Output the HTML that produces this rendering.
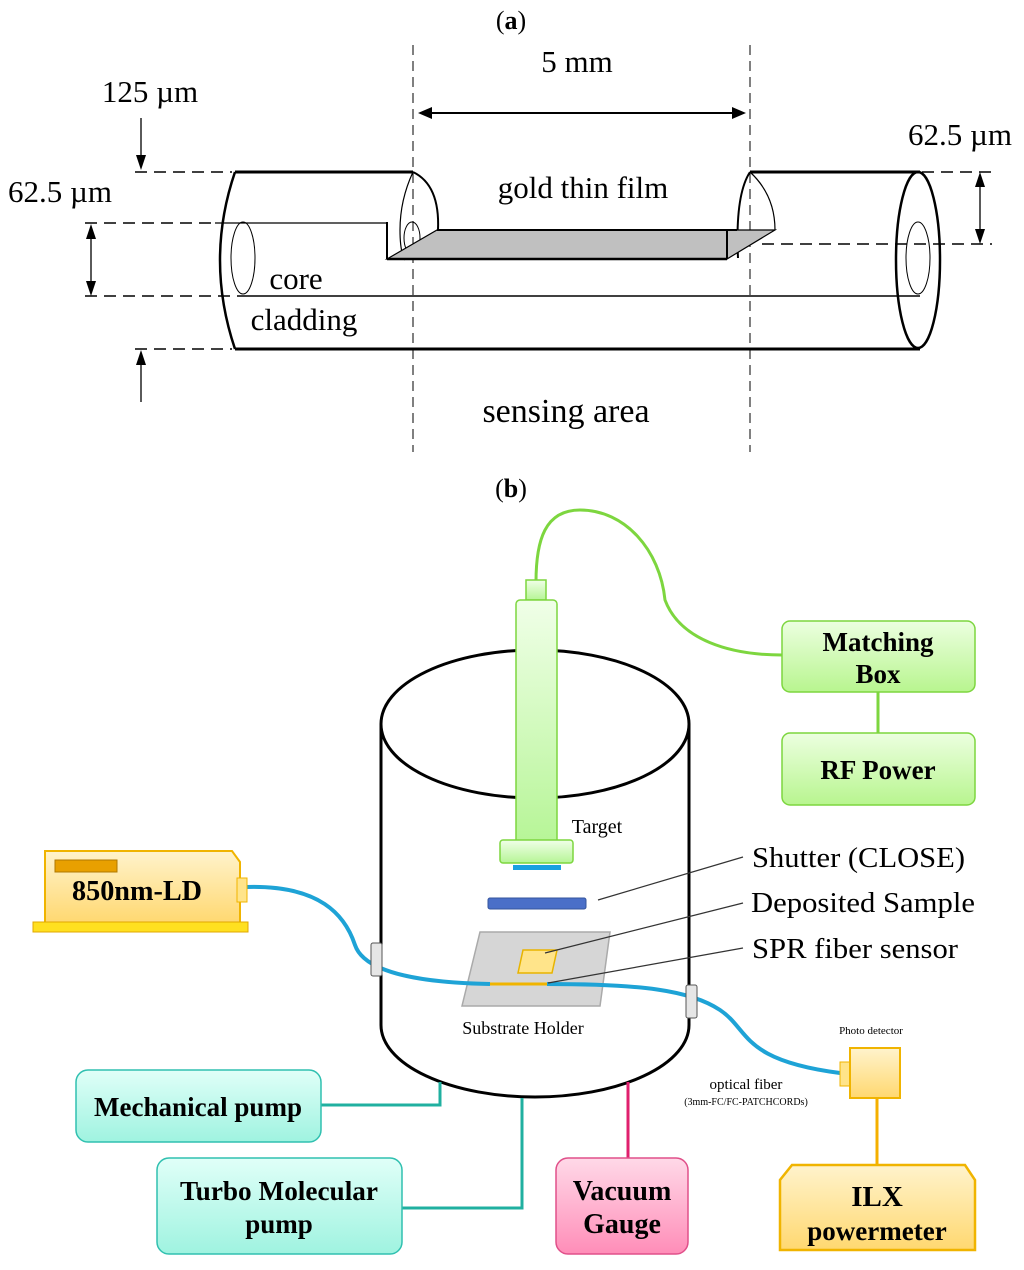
<!DOCTYPE html>
<html><head><meta charset="utf-8"><style>
html,body{margin:0;padding:0;background:#fff}
svg{display:block}
text{font-family:"Liberation Serif",serif}
.b{font-weight:bold}
</style></head><body>
<svg width="1024" height="1270" viewBox="0 0 1024 1270" xmlns="http://www.w3.org/2000/svg">
<defs>
<linearGradient id="gg" x1="0" y1="0" x2="0" y2="1"><stop offset="0" stop-color="#ecffe0"/><stop offset="1" stop-color="#b8f58f"/></linearGradient>
<linearGradient id="gt" x1="0" y1="0" x2="0" y2="1"><stop offset="0" stop-color="#f0ffe8"/><stop offset="1" stop-color="#b6f596"/></linearGradient>
<linearGradient id="cy" x1="0" y1="0" x2="0" y2="1"><stop offset="0" stop-color="#e0fff8"/><stop offset="1" stop-color="#9ff3e0"/></linearGradient>
<linearGradient id="pk" x1="0" y1="0" x2="0" y2="1"><stop offset="0" stop-color="#ffd9e8"/><stop offset="1" stop-color="#ff8db8"/></linearGradient>
<linearGradient id="yl" x1="0" y1="0" x2="0" y2="1"><stop offset="0" stop-color="#fff3cc"/><stop offset="1" stop-color="#ffd870"/></linearGradient>
</defs>

<!-- (a) -->
<text x="511" y="29" font-size="26" text-anchor="middle">(<tspan class="b">a</tspan>)</text>
<g stroke="#000" stroke-width="1" stroke-dasharray="10,6" fill="none">
<line x1="413" y1="45" x2="413" y2="452"/><line x1="750" y1="45" x2="750" y2="452"/>
</g>
<text x="577" y="72" font-size="31" text-anchor="middle">5 mm</text>
<line x1="430" y1="113" x2="735" y2="113" stroke="#000" stroke-width="2"/>
<path d="M418,113 L432,107 L432,119 z M746,113 L732,107 L732,119 z" fill="#000"/>

<g stroke="#000" fill="none" stroke-width="2">
<g stroke-dasharray="12,7" stroke-width="1.6">
<line x1="135" y1="172" x2="232" y2="172"/><line x1="135" y1="349" x2="232" y2="349"/>
<line x1="85" y1="223" x2="215" y2="223"/><line x1="85" y1="296" x2="240" y2="296"/>
<line x1="922" y1="172" x2="992" y2="172"/><line x1="762" y1="244" x2="992" y2="244"/>
</g>
<line x1="235" y1="172" x2="413" y2="172" stroke-width="3"/>
<line x1="750" y1="172" x2="920" y2="172" stroke-width="3"/>
<line x1="235" y1="349" x2="920" y2="349" stroke-width="3"/>
<path d="M235,172 Q205,260 235,349" stroke-width="2.5"/>
<ellipse cx="918" cy="260" rx="22" ry="88" stroke-width="2.5"/>
<ellipse cx="918" cy="258" rx="12" ry="36" stroke-width="1"/>
<ellipse cx="243" cy="258" rx="12" ry="36" stroke-width="1"/>
<path d="M413,172 Q440,185 438,230" stroke-width="2"/>
<path d="M413,172 Q400,200 400,230 Q400,252 405,260" stroke-width="1.2"/>
<ellipse cx="412" cy="238" rx="8" ry="16" stroke-width="1"/>
<path d="M750,172 Q735,195 738,258" stroke-width="2"/>
<path d="M750,172 Q775,195 775,230" stroke-width="1.2"/>
<line x1="215" y1="223" x2="387" y2="223" stroke-width="1.2"/>
<line x1="240" y1="296" x2="920" y2="296" stroke-width="1.5"/>
<polygon points="437,230 775,230 727,259 387,259" fill="#c0c0c0" stroke-width="1.2"/>
<line x1="437" y1="230" x2="737" y2="230" stroke-width="2"/>
<line x1="387" y1="259" x2="727" y2="259" stroke-width="2.5"/>
<line x1="387" y1="222" x2="387" y2="259" stroke-width="2"/>
<line x1="727" y1="230" x2="727" y2="259" stroke-width="2"/>
<line x1="141" y1="118" x2="141" y2="166" stroke-width="1.3"/>
<line x1="141" y1="402" x2="141" y2="356" stroke-width="1.3"/>
<line x1="91" y1="230" x2="91" y2="290" stroke-width="1.3"/>
<line x1="980" y1="178" x2="980" y2="238" stroke-width="1.3"/>
</g>
<path d="M141,170 L136,155 L146,155 z M141,350 L136,365 L146,365 z M91,224 L86,239 L96,239 z M91,296 L86,281 L96,281 z M980,172 L975,187 L985,187 z M980,244 L975,229 L985,229 z" fill="#000"/>
<g font-size="31">
<text x="150" y="102" text-anchor="middle">125 µm</text>
<text x="60" y="202" text-anchor="middle">62.5 µm</text>
<text x="960" y="145" text-anchor="middle">62.5 µm</text>
<text x="583" y="198" text-anchor="middle">gold thin film</text>
<text x="296" y="289" text-anchor="middle">core</text>
<text x="304" y="330" text-anchor="middle">cladding</text>
<text x="566" y="422" text-anchor="middle" font-size="34">sensing area</text>
</g>

<!-- (b) -->
<text x="511" y="497" font-size="26" text-anchor="middle">(<tspan class="b">b</tspan>)</text>

<path d="M536,582 C536,540 545,510 580,510 C625,510 660,550 665,600 C680,640 730,655 782,655" stroke="#7dd63f" stroke-width="3" fill="none"/>

<ellipse cx="535" cy="724" rx="154" ry="74" fill="none" stroke="#000" stroke-width="3"/>
<path d="M381,724 L381,1025 A154,72 0 0 0 689,1025 L689,724" fill="none" stroke="#000" stroke-width="3"/>

<rect x="526" y="580" width="20" height="20" fill="url(#gt)" stroke="#7dd63f" stroke-width="1.5"/>
<rect x="516" y="600" width="41" height="245" rx="4" fill="url(#gt)" stroke="#7dd63f" stroke-width="1.5"/>
<rect x="500" y="840" width="73" height="23" rx="3" fill="url(#gt)" stroke="#7dd63f" stroke-width="1.5"/>
<rect x="513" y="865" width="48" height="5" fill="#1aa0e0"/>
<text x="597" y="833" font-size="20" text-anchor="middle">Target</text>
<rect x="488" y="898" width="98" height="11" rx="2" fill="#4a6fc8" stroke="#34549c"/>

<polygon points="480,932 610,932 600,1006 462,1006" fill="#d6d6d6" stroke="#aaa" stroke-width="1.5"/>
<polygon points="523,950 557,950 552,973 518,973" fill="#ffe48a" stroke="#e8b400" stroke-width="1.5"/>
<text x="523" y="1034" font-size="18" text-anchor="middle">Substrate Holder</text>

<path d="M247,887 C320,885 345,915 355,945 C365,975 430,983 490,984" stroke="#1ea3d6" stroke-width="4" fill="none"/>
<line x1="490" y1="984" x2="547" y2="984" stroke="#f0b400" stroke-width="3"/>
<path d="M547,984 C640,984 690,990 720,1010 C750,1030 740,1060 840,1073" stroke="#1ea3d6" stroke-width="4" fill="none"/>
<rect x="371" y="943" width="11" height="33" rx="2" fill="#e6e6e6" stroke="#555"/>
<rect x="686" y="985" width="11" height="33" rx="2" fill="#e6e6e6" stroke="#555"/>

<g stroke="#333" stroke-width="1.2">
<line x1="598" y1="900" x2="743" y2="857"/>
<line x1="545" y1="953" x2="743" y2="903"/>
<line x1="548" y1="983" x2="743" y2="948"/>
</g>
<g font-size="28">
<text x="752" y="867" textLength="213" lengthAdjust="spacingAndGlyphs">Shutter (CLOSE)</text>
<text x="751" y="912" textLength="224" lengthAdjust="spacingAndGlyphs">Deposited Sample</text>
<text x="752" y="958" textLength="206" lengthAdjust="spacingAndGlyphs">SPR fiber sensor</text>
</g>

<path d="M45,851 L232,851 L240,862 L240,923 L45,923 z" fill="url(#yl)" stroke="#f0b400" stroke-width="2"/>
<rect x="55" y="860" width="62" height="12" fill="#e8a000" stroke="#b07800"/>
<rect x="237" y="878" width="10" height="24" fill="#ffe48a" stroke="#f0b400"/>
<rect x="33" y="922" width="215" height="10" fill="#ffe020" stroke="#e0a800"/>
<text x="137" y="900" font-size="28" class="b" text-anchor="middle" textLength="130" lengthAdjust="spacingAndGlyphs">850nm-LD</text>

<line x1="878" y1="692" x2="878" y2="733" stroke="#7dd63f" stroke-width="3"/>
<rect x="782" y="621" width="193" height="71" rx="8" fill="url(#gg)" stroke="#7dd63f" stroke-width="1.5"/>
<rect x="782" y="733" width="193" height="72" rx="8" fill="url(#gg)" stroke="#7dd63f" stroke-width="1.5"/>
<text x="878" y="651" font-size="27" class="b" text-anchor="middle">Matching</text>
<text x="878" y="683" font-size="27" class="b" text-anchor="middle">Box</text>
<text x="878" y="779" font-size="27" class="b" text-anchor="middle">RF Power</text>

<text x="871" y="1034" font-size="11" text-anchor="middle">Photo detector</text>
<rect x="840" y="1062" width="11" height="24" fill="#ffe48a" stroke="#f0b400"/>
<rect x="850" y="1048" width="50" height="50" fill="url(#yl)" stroke="#f0b400" stroke-width="2"/>
<text x="746" y="1089" font-size="15" text-anchor="middle">optical fiber</text>
<text x="746" y="1105" font-size="10" text-anchor="middle">(3mm-FC/FC-PATCHCORDs)</text>
<line x1="877" y1="1098" x2="877" y2="1165" stroke="#f5b000" stroke-width="3"/>
<path d="M792,1165 L965,1165 L975,1180 L975,1250 L780,1250 L780,1180 z" fill="url(#yl)" stroke="#f0b400" stroke-width="2.5"/>
<text x="877" y="1206" font-size="29" class="b" text-anchor="middle">ILX</text>
<text x="877" y="1240" font-size="27" class="b" text-anchor="middle">powermeter</text>

<polyline points="320,1105 440,1105 440,1082" fill="none" stroke="#20b0a0" stroke-width="3"/>
<polyline points="402,1208 522,1208 522,1098" fill="none" stroke="#20b0a0" stroke-width="3"/>
<line x1="628" y1="1082" x2="628" y2="1158" stroke="#e0206e" stroke-width="3"/>
<rect x="76" y="1070" width="245" height="72" rx="12" fill="url(#cy)" stroke="#30c0b0" stroke-width="1.5"/>
<text x="198" y="1116" font-size="27" class="b" text-anchor="middle" textLength="208" lengthAdjust="spacingAndGlyphs">Mechanical pump</text>
<rect x="157" y="1158" width="245" height="96" rx="12" fill="url(#cy)" stroke="#30c0b0" stroke-width="1.5"/>
<text x="279" y="1200" font-size="27" class="b" text-anchor="middle" textLength="198" lengthAdjust="spacingAndGlyphs">Turbo Molecular</text>
<text x="279" y="1233" font-size="27" class="b" text-anchor="middle">pump</text>
<rect x="556" y="1158" width="132" height="96" rx="12" fill="url(#pk)" stroke="#e0508a" stroke-width="1.5"/>
<text x="622" y="1200" font-size="28" class="b" text-anchor="middle">Vacuum</text>
<text x="622" y="1233" font-size="28" class="b" text-anchor="middle">Gauge</text>
</svg>
</body></html>
